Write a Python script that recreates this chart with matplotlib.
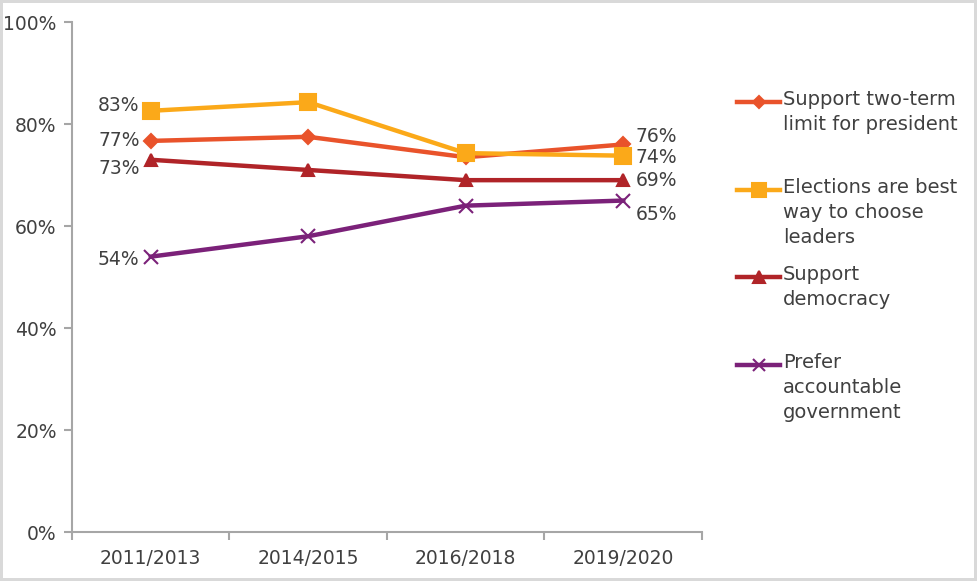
import matplotlib.pyplot as plt
from matplotlib.lines import Line2D

# data
periods = ["2011/2013", "2014/2015", "2016/2018", "2019/2020"]
two_term = [76.7, 77.5, 73.5, 76.0]
elections = [82.6, 84.3, 74.3, 73.8]
democracy = [73.0, 71.0, 69.0, 69.0]
accountable = [54.0, 58.0, 64.0, 65.0]

first_labels = ["77%", "83%", "73%", "54%"]
last_labels = ["76%", "74%", "69%", "65%"]
legend_labels = [
    "Support two-term\nlimit for president",
    "Elections are best\nway to choose\nleaders",
    "Support\ndemocracy",
    "Prefer\naccountable\ngovernment",
]

colors = ["#E9532B", "#FBA919", "#B02428", "#7B2179"]
markers = ["D", "s", "^", "x"]
msizes = [7, 11, 9, 10]

plt.rcParams['font.family'] = ['DejaVu Sans']
text_color = "#404040"

fig = plt.figure(figsize=(9.77, 5.81), dpi=100)
fig.patch.set_edgecolor("#d9d9d9")
fig.patch.set_linewidth(3)
ax = fig.add_axes([0.0737, 0.0843, 0.6448, 0.8777])

series = [two_term, elections, democracy, accountable]
x = list(range(len(periods)))
for vals, c, m, ms in zip(series, colors, markers, msizes):
    ax.plot(x, vals, color=c, lw=3.2, marker=m, ms=ms, mew=1.5,
            markeredgecolor=c, markerfacecolor=c, zorder=3)

# end labels
first_offsets = [(-8, 0), (-8, 4), (-8, -6), (-8, -2)]
last_offsets = [(9, 6), (9, -1), (9, 0), (9, -10)]
for vals, fl, ll, fo, lo in zip(series, first_labels, last_labels, first_offsets, last_offsets):
    ax.annotate(fl, (0, vals[0]), xytext=fo, textcoords="offset points",
                ha="right", va="center", fontsize=13.5, color=text_color)
    ax.annotate(ll, (3, vals[-1]), xytext=lo, textcoords="offset points",
                ha="left", va="center", fontsize=13.5, color=text_color)

ax.set_xlim(-0.5, 3.5)
ax.set_ylim(0, 100)
ax.set_yticks([0, 20, 40, 60, 80, 100])
ax.set_yticklabels([f"{v}%" for v in [0, 20, 40, 60, 80, 100]])
ax.set_xticks(x)
ax.set_xticklabels(periods)
ax.set_xticks([-0.5, 0.5, 1.5, 2.5, 3.5], minor=True)
ax.tick_params(axis="x", which="major", length=0, pad=12)
ax.tick_params(axis="x", which="minor", length=6, color="#a6a6a6", width=1.5)
ax.tick_params(axis="y", length=6, color="#a6a6a6", width=1.5, pad=5)
ax.tick_params(labelsize=13.5, labelcolor=text_color)
for s in ["top", "right"]:
    ax.spines[s].set_visible(False)
for s in ["left", "bottom"]:
    ax.spines[s].set_color("#a6a6a6")
    ax.spines[s].set_linewidth(1.5)

# legend drawn at the right side
W, H = 977.0, 581.0
legend_tops = [102, 190, 277, 365]
for lab, c, m, ms, yt in zip(legend_labels, colors, markers, msizes, legend_tops):
    yf = 1 - yt / H
    fig.add_artist(Line2D([737 / W, 780 / W], [yf, yf], color=c, lw=3.2,
                          transform=fig.transFigure))
    fig.add_artist(Line2D([758.5 / W], [yf], color=c, marker=m, ms=ms * 0.9,
                          mew=1.5, markerfacecolor=c, markeredgecolor=c,
                          transform=fig.transFigure))
    fig.text(783 / W, yf + 12 / H, lab, ha="left", va="top", fontsize=14,
             color=text_color, linespacing=1.4)

fig.savefig("out.png", dpi=100)
